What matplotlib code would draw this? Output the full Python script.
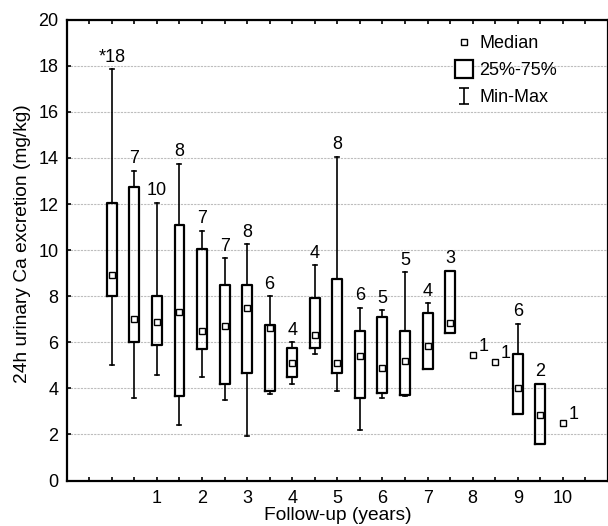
import numpy as np
import matplotlib
matplotlib.use("Agg")
import matplotlib.pyplot as plt
from matplotlib.lines import Line2D
from matplotlib.path import Path

plt.rcParams['font.family'] = ['Liberation Sans', 'DejaVu Sans']

# follow-up time (years) and group sizes
years = [0, 0.5, 1, 1.5, 2, 2.5, 3, 3.5, 4, 4.5, 5, 5.5, 6, 6.5, 7, 7.5, 8, 8.5, 9, 9.5, 10]
n = [18, 7, 10, 8, 7, 7, 8, 6, 4, 4, 8, 6, 5, 5, 4, 3, 1, 1, 6, 2, 1]
labels = ["*18"] + [str(v) for v in n[1:]]

# 24h urinary Ca excretion (mg/kg)
med = [8.9, 7.0, 6.9, 7.3, 6.5, 6.7, 7.5, 6.6, 5.1, 6.3, 5.1, 5.4, 4.9, 5.2, 5.85, 6.85, 5.45, 5.15, 4.0, 2.85, 2.5]
q1 = [8.0, 6.0, 5.9, 3.65, 5.7, 4.2, 4.65, 3.9, 4.5, 5.75, 4.65, 3.6, 3.8, 3.7, 4.85, 6.4, 5.45, 5.15, 2.9, 1.6, 2.5]
q3 = [12.05, 12.75, 8.0, 11.1, 10.05, 8.5, 8.5, 6.75, 5.75, 7.9, 8.75, 6.5, 7.1, 6.5, 7.25, 9.1, 5.45, 5.15, 5.5, 4.2, 2.5]
lo = [5.0, 3.6, 4.6, 2.4, 4.5, 3.5, 1.95, 3.75, 4.2, 5.5, 3.9, 2.2, 3.6, 3.65, 4.85, 6.4, 5.45, 5.15, 2.9, 1.6, 2.5]
hi = [17.85, 13.45, 12.05, 13.75, 10.85, 9.65, 10.25, 8.0, 6.0, 9.35, 14.05, 7.5, 7.4, 9.05, 7.7, 9.1, 5.45, 5.15, 6.8, 4.2, 2.5]

fs = 13

fig = plt.figure(figsize=(6.08, 5.26), dpi=100)
ax = fig.add_axes([0.1097, 0.0865, 0.8903, 0.876])

stats = []
pos = []
for i in range(len(years)):
    if n[i] > 1:
        stats.append(dict(med=med[i], q1=q1[i], q3=q3[i], whislo=lo[i], whishi=hi[i]))
        pos.append(years[i])

ax.bxp(stats, positions=pos, widths=0.22, showfliers=False, capwidths=0.09,
       boxprops=dict(color='black', linewidth=1.6),
       whiskerprops=dict(color='black', linewidth=1.2),
       capprops=dict(color='black', linewidth=1.2),
       medianprops=dict(visible=False), manage_ticks=False, zorder=3)

ax.plot(years, med, 's', markersize=5, mfc='white', mec='black', mew=1.0, zorder=4)

for i in range(len(years)):
    if n[i] > 1:
        ax.annotate(labels[i], (years[i], hi[i]), xytext=(0, 2.5), textcoords='offset points',
                    ha='center', va='bottom', fontsize=fs)
    else:
        ax.annotate(labels[i], (years[i], med[i]), xytext=(4, 0), textcoords='offset points',
                    ha='left', va='bottom', fontsize=fs)

ax.set_xlim(-1, 11)
ax.set_ylim(0, 20)
xt = np.arange(-0.5, 11, 0.5)
ax.set_xticks(xt)
ax.set_xticklabels([str(int(t)) if t >= 1 and t == int(t) else "" for t in xt])
ax.set_yticks(np.arange(0, 21, 2))
ax.tick_params(axis='x', direction='in', length=3, width=1.2, top=True, labelsize=fs, pad=7)
ax.tick_params(axis='y', direction='in', length=3, width=1.2, labelsize=fs, pad=6)
for s in ax.spines.values():
    s.set_linewidth(1.6)
ax.yaxis.grid(True, color='#bdbdbd', linestyle=(0, (2, 1)), linewidth=0.8)
ax.set_axisbelow(True)

ax.set_xlabel("Follow-up (years)", fontsize=13.8, labelpad=0)
ax.set_ylabel("24h urinary Ca excretion (mg/kg)", fontsize=13.8)
ax.yaxis.set_label_coords(-0.066, 0.515)

ibeam = Path([(-0.6, -1), (0.6, -1), (0, -1), (0, 1), (-0.6, 1), (0.6, 1)],
             [Path.MOVETO, Path.LINETO, Path.MOVETO, Path.LINETO, Path.MOVETO, Path.LINETO])
handles = [
    Line2D([], [], marker='s', linestyle='none', markersize=5, mfc='white', mec='black', mew=1.0),
    Line2D([], [], marker='s', linestyle='none', markersize=13, mfc='white', mec='black', mew=1.6),
    Line2D([], [], marker=ibeam, linestyle='none', markersize=11, color='black', mew=1.2),
]
ax.legend(handles, ["Median", "25%-75%", "Min-Max"], loc='upper left',
          bbox_to_anchor=(0.704, 0.982), frameon=False, fontsize=fs,
          handlelength=1.0, handletextpad=0.35, labelspacing=0.55, borderaxespad=0)

fig.savefig("out.png", dpi=100)
